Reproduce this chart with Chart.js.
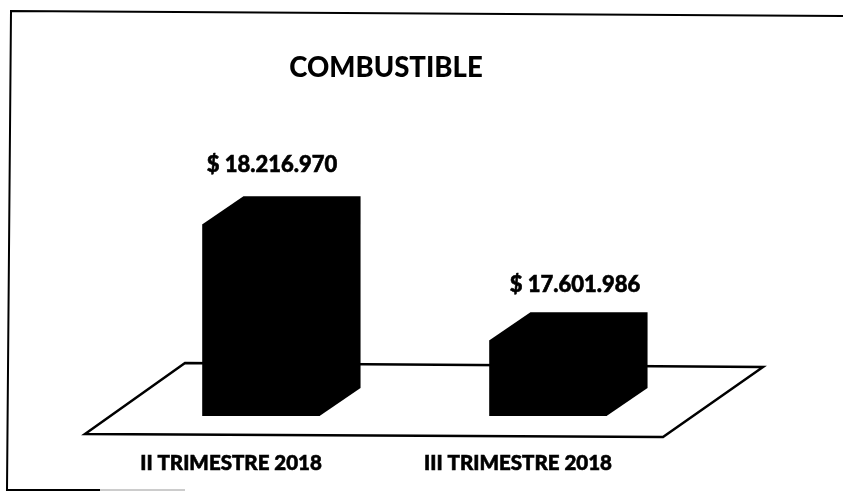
<!DOCTYPE html>
<html>
<head>
<meta charset="utf-8">
<title>COMBUSTIBLE</title>
<style>html,body{margin:0;padding:0;background:#fff}canvas{display:block}</style>
<script src="https://cdn.jsdelivr.net/npm/chart.js@4"></script>
</head>
<body>
<canvas id="c" width="843" height="491"></canvas>
<script>
const chartTitle = 'COMBUSTIBLE';
const categories = ['II TRIMESTRE 2018', 'III TRIMESTRE 2018'];
const values = [18216970, 17601986];
const valueLabels = ['$ 18.216.970', '$ 17.601.986'];
const axisMin = 17200000;
const axisMax = 18875000;

const FONT = 'Lato, Carlito, Calibri, sans-serif';
const DEPTH_X = 41, DEPTH_Y = 28;

function polygon(ctx, pts) {
  ctx.beginPath();
  pts.forEach((p, i) => i ? ctx.lineTo(p[0], p[1]) : ctx.moveTo(p[0], p[1]));
  ctx.closePath();
}

const scene = {
  id: 'scene',
  afterLayout(chart) {
    // title is centred over the plot's visual middle rather than the canvas
    chart.titleBlock.left = 0;
    chart.titleBlock.right = 772;
  },
  beforeDatasetsDraw(chart) {
    const ctx = chart.ctx;
    ctx.save();
    // frame of the scanned page
    ctx.strokeStyle = '#000';
    ctx.lineWidth = 2;
    ctx.beginPath();
    ctx.moveTo(843, 16); ctx.lineTo(11, 11); ctx.lineTo(7, 490); ctx.lineTo(100, 490);
    ctx.stroke();
    ctx.strokeStyle = '#999';
    ctx.lineWidth = 1;
    ctx.beginPath(); ctx.moveTo(100, 490); ctx.lineTo(185, 490); ctx.stroke();
    // floor of the 3D plot
    ctx.strokeStyle = '#000';
    ctx.lineWidth = 2.5;
    ctx.lineJoin = 'miter';
    polygon(ctx, [[85, 434], [185, 363], [763, 367], [663, 437]]);
    ctx.stroke();
    // depth faces of the bars
    ctx.fillStyle = '#000';
    chart.getDatasetMeta(0).data.forEach(el => {
      const w = el.width / 2;
      polygon(ctx, [
        [el.x - w, el.y],
        [el.x - w + DEPTH_X, el.y - DEPTH_Y],
        [el.x + w + DEPTH_X, el.y - DEPTH_Y],
        [el.x + w + DEPTH_X, el.base - DEPTH_Y],
        [el.x + w, el.base],
        [el.x - w, el.base]
      ]);
      ctx.fill();
    });
    ctx.restore();
  },
  afterDatasetsDraw(chart) {
    const ctx = chart.ctx;
    const shiftX = [11, 27], shiftY = [59, 55];
    ctx.save();
    ctx.fillStyle = '#000';
    ctx.strokeStyle = '#000';
    ctx.lineWidth = 0.6;
    ctx.font = '900 22px ' + FONT;
    ctx.textAlign = 'center';
    ctx.textBaseline = 'middle';
    chart.getDatasetMeta(0).data.forEach((el, i) => {
      ctx.fillText(valueLabels[i], el.x + shiftX[i], el.y - shiftY[i]);
      ctx.strokeText(valueLabels[i], el.x + shiftX[i], el.y - shiftY[i]);
    });
    ctx.restore();
  }
};

new Chart(document.getElementById('c'), {
  type: 'bar',
  data: {
    labels: categories,
    datasets: [{
      data: values,
      base: axisMin,
      backgroundColor: '#000',
      borderWidth: 0,
      barPercentage: 0.408,
      categoryPercentage: 1
    }]
  },
  options: {
    responsive: false,
    animation: false,
    layout: { padding: { left: 117.5, right: 151.5, top: 0, bottom: 16 } },
    plugins: {
      legend: { display: false },
      tooltip: { enabled: false },
      title: {
        display: true,
        text: chartTitle,
        color: '#000',
        font: { family: FONT, size: 27.5, weight: '900', lineHeight: 1.2 },
        padding: { top: 52, bottom: 15 }
      }
    },
    scales: {
      x: {
        afterFit(scale) { scale.height = 59; },
        grid: { display: false, drawTicks: false },
        border: { display: false },
        ticks: {
          color: '#000',
          font: { family: FONT, size: 20.5, weight: '900', lineHeight: 1.2 },
          textStrokeColor: '#000',
          textStrokeWidth: 0.6,
          padding: 35,
          labelOffset: -30,
          maxRotation: 0,
          autoSkip: false
        }
      },
      y: {
        display: false,
        min: axisMin,
        max: axisMax
      }
    }
  },
  plugins: [scene]
});
</script>
</body>
</html>
